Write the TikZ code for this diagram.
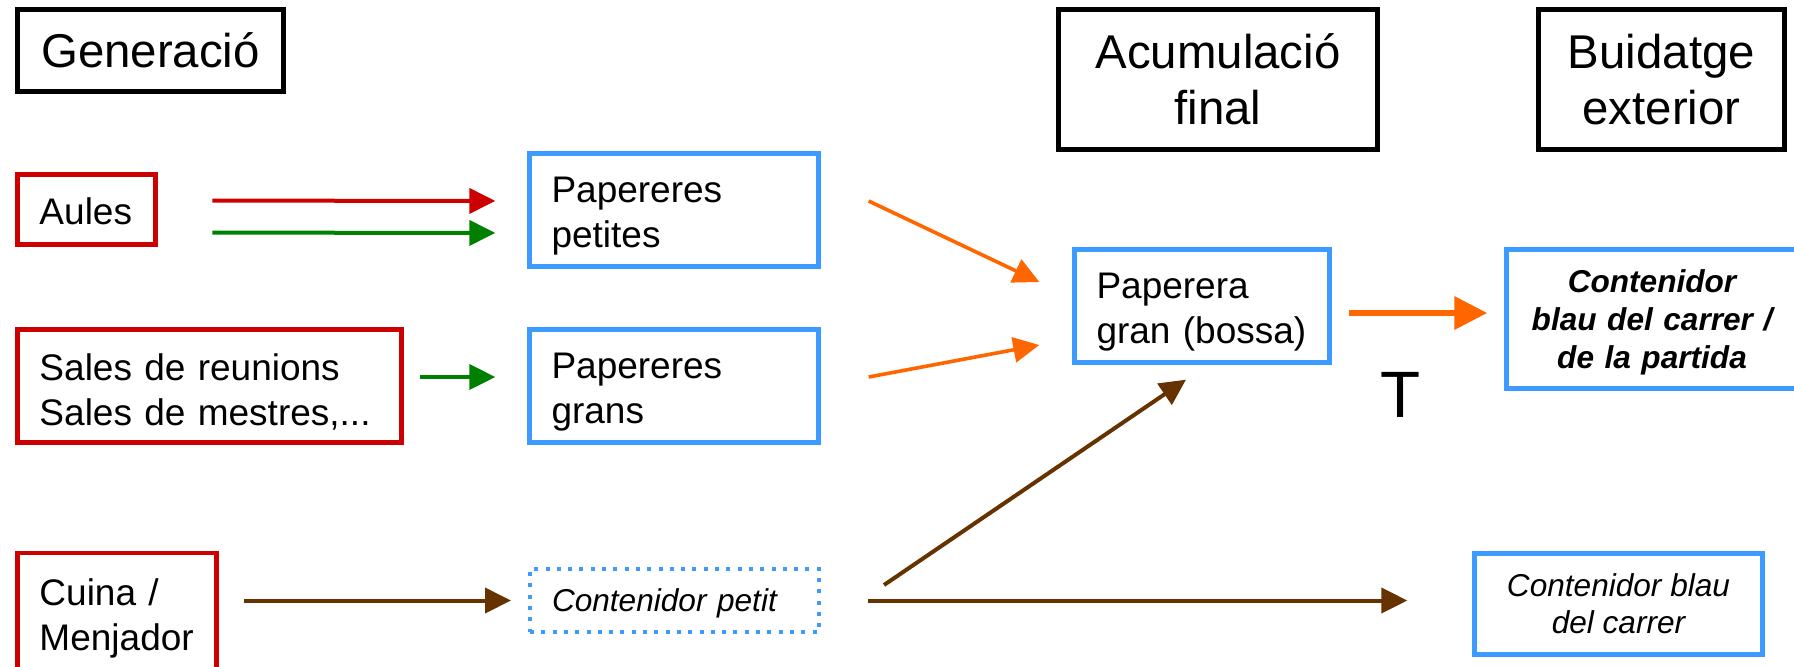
\documentclass[tikz,border=0pt]{standalone}
\usepackage{fontspec}
\setmainfont{Liberation Sans}
\usepackage{tikz}
\usetikzlibrary{arrows.meta}
\definecolor{srcred}{HTML}{CC0000}
\definecolor{binblue}{HTML}{3D9BFF}
\definecolor{flowgreen}{HTML}{008000}
\definecolor{floworange}{HTML}{FF6600}
\definecolor{flowbrown}{HTML}{663300}

\begin{document}
\begin{tikzpicture}[x=0.5pt, y=-0.5pt,
      stage/.style={rectangle, draw, line width=2.5pt, align=center, font={\fontsize{23.7}{28}\selectfont}},
      origin/.style={rectangle, draw=srcred, line width=2.35pt, align=left, inner xsep=11pt, text height=19pt, font={\fontsize{18.5}{22.5}\selectfont}},
      bin/.style={rectangle, draw=binblue, line width=2.65pt, align=left, inner xsep=11pt, text height=19pt, font={\fontsize{18.5}{22.5}\selectfont}},
      bindot/.style={rectangle, draw=binblue, line width=2pt, dash pattern=on 2pt off 3.65pt, align=left, inner xsep=11pt, text depth=0pt, font={\fontsize{15.8}{18.5}\selectfont\itshape}},
      contbox/.style={rectangle, draw=binblue, line width=2.65pt, align=center, font={\fontsize{15.8}{18.5}\selectfont\itshape}},
      flow/.style={line width=2pt, -{Triangle[length=13pt, width=12.5pt]}},
      bigflow/.style={line width=3.3pt, -{Triangle[length=16.5pt, width=16pt]}}]
      \useasboundingbox (0,0) rectangle (1794,666);
      \clip (0,0) rectangle (1794,666);

      % Stages
      \node[stage, minimum width=133pt, minimum height=41pt] (gen) at (150.5,50.5) {Generació};
      \node[stage, minimum width=159.5pt, minimum height=70pt] (acum) at (1218,79.5) {Acumulació\\final};
      \node[stage, minimum width=123pt, minimum height=70pt] (buid) at (1661.5,79.5) {Buidatge\\exterior};

      % Sources
      \node[origin, text width=47pt, minimum height=35pt, text height=15.5pt] (aules) at (86.5,209.5) {Aules};
      \node[origin, text width=170pt, minimum height=56.5pt] (sales) at (209.5,386) {Sales de reunions\\Sales de mestres,...};
      \node[origin, text width=77.5pt, minimum height=60pt] (cuina) at (117,613) {Cuina /\\Menjador};

      % Bins
      \node[bin, text width=122.5pt, minimum height=56.5pt] (petites) at (674,210) {Papereres\\petites};
      \node[bin, text width=122.5pt, minimum height=56.5pt] (grans) at (674,386) {Papereres\\grans};
      \node[bindot, text width=122.5pt, minimum height=31.5pt] (petit) at (674.5,600.5) {Contenidor petit};
      \node[bin, text width=105.5pt, minimum height=56.5pt] (gran) at (1202,306) {Paperera\\gran (bossa)};

      % Street containers
      \node[contbox, inner xsep=11pt, text width=123.5pt, minimum height=69.5pt, text height=15pt, font={\fontsize{15.8}{19}\selectfont\bfseries\itshape}] (blau) at (1652,319) {Contenidor\\blau del carrer /\\de la partida};
      \node[contbox, minimum width=144pt, minimum height=50.5pt] (carrer) at (1618.5,604) {Contenidor blau\\del carrer};
      \node[font={\fontsize{32.8}{36}\selectfont}, anchor=base] (tmark) at (1401,417) {T};

      % Arrows to the small bins
      \draw[flow, srcred, shorten <=27.25pt, shorten >=15.75pt] ([yshift=4.5pt]aules.east) -- ([yshift=4.5pt]petites.west);
      \draw[flow, flowgreen, shorten <=27.25pt, shorten >=15.75pt] ([yshift=-11.5pt]aules.east) -- ([yshift=-11.5pt]petites.west);
      \draw[flow, flowgreen, shorten <=8.25pt, shorten >=15.75pt] ([yshift=4.5pt]sales.east) -- ([yshift=4.5pt]grans.west);
      \draw[flow, flowbrown, shorten <=12.75pt, shorten >=8.5pt] (cuina.east |- petit.west) -- (petit.west);

      % Arrows to the big bin
      \draw[flow, floworange, line width=1.8pt] ([shift={(23.75pt,4.5pt)}]petites.east) -- ([shift={(-16.25pt,12pt)}]gran.west);
      \draw[flow, floworange, line width=1.8pt] ([shift={(23.75pt,4.5pt)}]grans.east) -- ([shift={(-16.25pt,-19.5pt)}]gran.west);
      \draw[flow, flowbrown] ([shift={(31.5pt,7.75pt)}]petit.east) -- ([shift={(-8pt,-7.25pt)}]gran.south);

      % Arrows outside
      \draw[bigflow, floworange, shorten <=8.25pt, shorten >=8.25pt] ([yshift=-3.5pt]gran.east) -- ([yshift=3pt]blau.west);
      \draw[flow, flowbrown, shorten <=23.5pt, shorten >=32.25pt] (petit.east) -- (petit.east -| carrer.west);
    \end{tikzpicture}
\end{document}
